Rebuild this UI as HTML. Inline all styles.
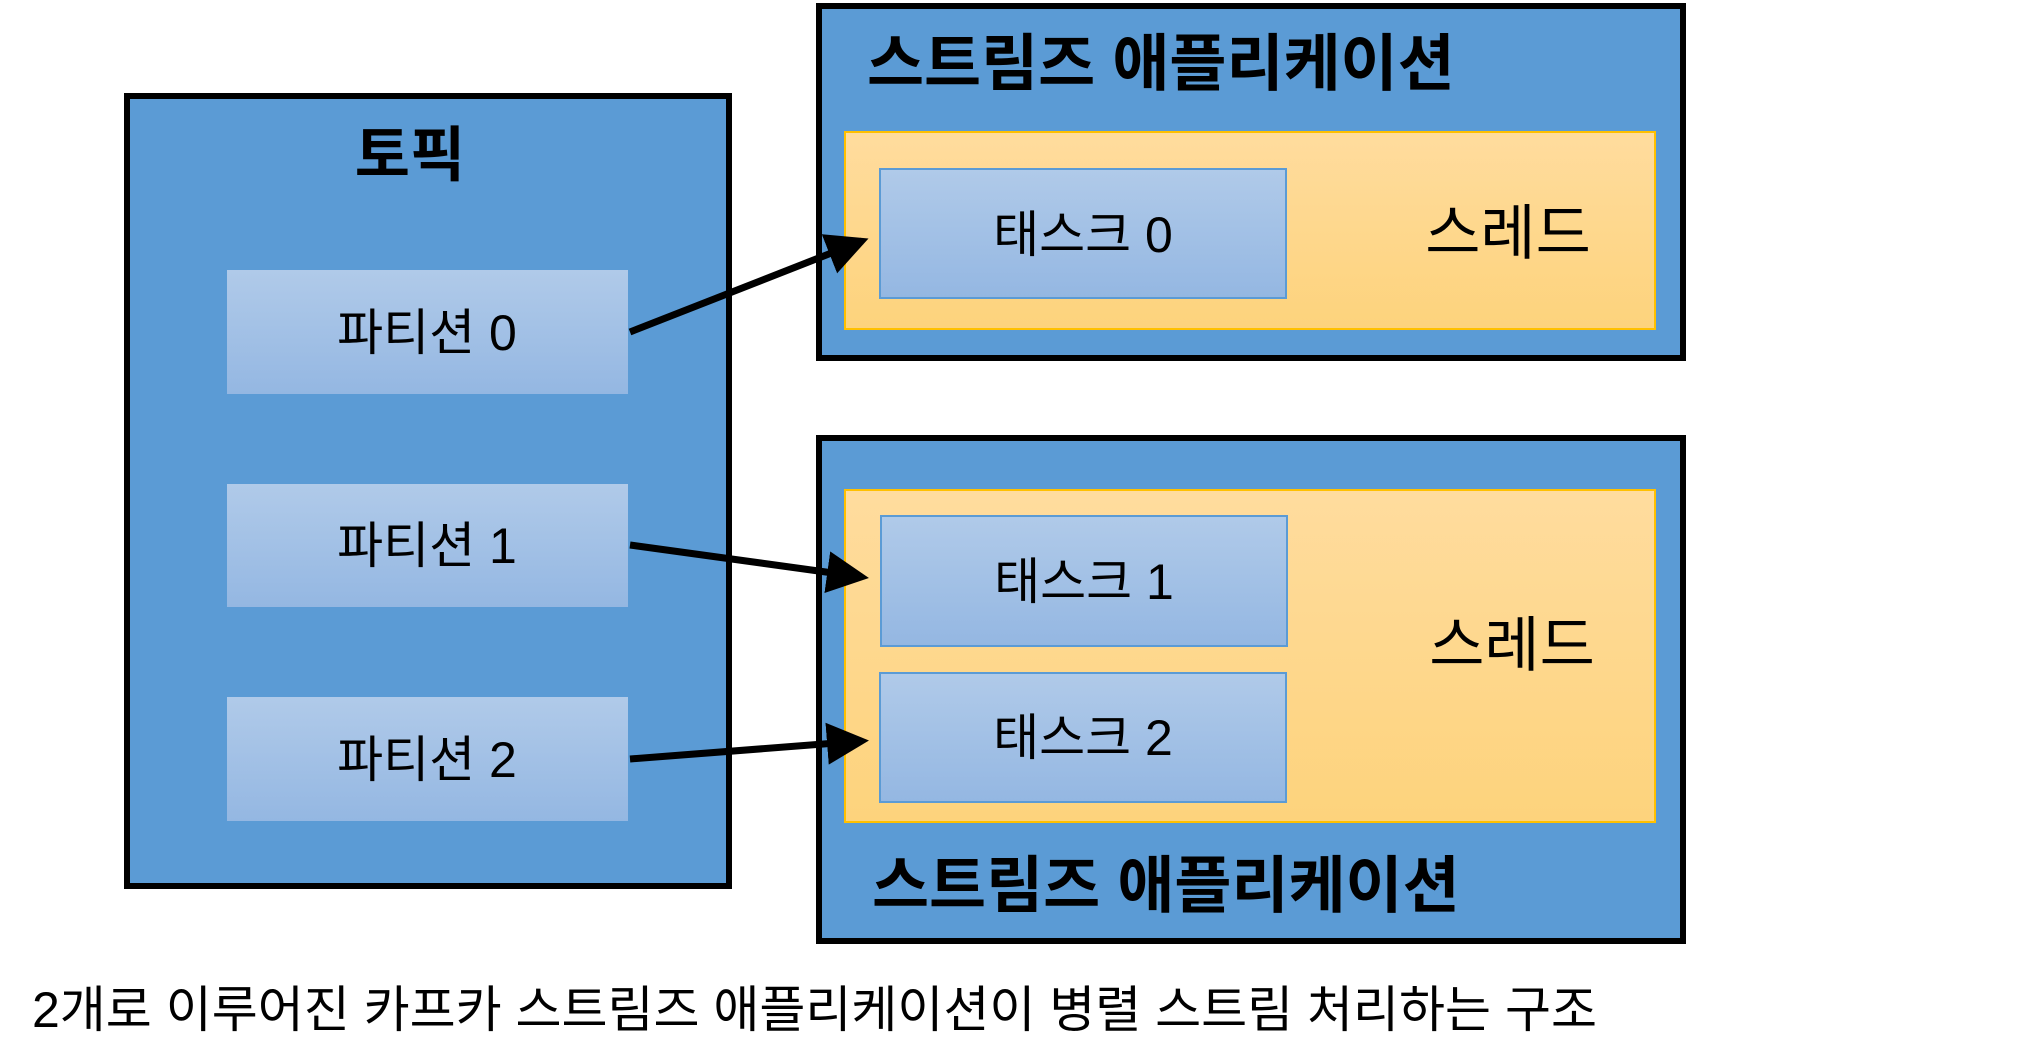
<!DOCTYPE html>
<html><head><meta charset="utf-8"><style>
html,body{margin:0;padding:0;background:#fff;width:2042px;height:1059px;overflow:hidden}
svg text{font-family:"Liberation Sans","Noto Sans CJK KR",sans-serif;fill:#000}
</style></head><body>
<svg width="2042" height="1059" viewBox="0 0 2042 1059" xmlns="http://www.w3.org/2000/svg">
<defs>
<linearGradient id="bl" x1="0" y1="0" x2="0" y2="1"><stop offset="0" stop-color="#B0CAE9"/><stop offset="1" stop-color="#94B7E2"/></linearGradient>
<linearGradient id="or" x1="0" y1="0" x2="0" y2="1"><stop offset="0" stop-color="#FFDC9E"/><stop offset="1" stop-color="#FDD37C"/></linearGradient>
<marker id="ah" markerWidth="6" markerHeight="6" refX="5" refY="3" orient="auto" markerUnits="strokeWidth"><path d="M0,0 L6,3 L0,6 z" fill="#000"/></marker>
</defs>
<!-- topic -->
<rect x="127" y="96" width="602" height="790" fill="#5B9BD5" stroke="#000" stroke-width="6"/>
<text x="410" y="176" font-size="60" font-weight="bold" text-anchor="middle">토픽</text>
<rect x="227" y="270" width="401" height="124" fill="url(#bl)"/>
<rect x="227" y="484" width="401" height="123" fill="url(#bl)"/>
<rect x="227" y="697" width="401" height="124" fill="url(#bl)"/>
<text x="427" y="350" font-size="50" text-anchor="middle">파티션 0</text>
<text x="427" y="563" font-size="50" text-anchor="middle">파티션 1</text>
<text x="427" y="777" font-size="50" text-anchor="middle">파티션 2</text>
<!-- app1 -->
<rect x="819" y="6" width="864" height="352" fill="#5B9BD5" stroke="#000" stroke-width="6"/>
<text x="867" y="85" font-size="62" font-weight="bold">스트림즈 애플리케이션</text>
<rect x="845" y="132" width="810" height="197" fill="url(#or)" stroke="#FFC000" stroke-width="2"/>
<rect x="880" y="169" width="406" height="129" fill="url(#bl)" stroke="#5B9BD5" stroke-width="2"/>
<text x="1083" y="252" font-size="50" text-anchor="middle">태스크 0</text>
<text x="1508" y="254" font-size="60" text-anchor="middle">스레드</text>
<!-- app2 -->
<rect x="819" y="438" width="864" height="503" fill="#5B9BD5" stroke="#000" stroke-width="6"/>
<rect x="845" y="490" width="810" height="332" fill="url(#or)" stroke="#FFC000" stroke-width="2"/>
<rect x="881" y="516" width="406" height="130" fill="url(#bl)" stroke="#5B9BD5" stroke-width="2"/>
<rect x="880" y="673" width="406" height="129" fill="url(#bl)" stroke="#5B9BD5" stroke-width="2"/>
<text x="1084" y="599" font-size="50" text-anchor="middle">태스크 1</text>
<text x="1083" y="755" font-size="50" text-anchor="middle">태스크 2</text>
<text x="1512" y="666" font-size="60" text-anchor="middle">스레드</text>
<text x="872" y="907" font-size="62" font-weight="bold">스트림즈 애플리케이션</text>
<!-- arrows -->
<line x1="630" y1="332" x2="862" y2="241" stroke="#000" stroke-width="7" marker-end="url(#ah)"/>
<line x1="630" y1="545" x2="862" y2="577" stroke="#000" stroke-width="7" marker-end="url(#ah)"/>
<line x1="630" y1="759" x2="862" y2="741" stroke="#000" stroke-width="7" marker-end="url(#ah)"/>
<!-- caption -->
<text x="32" y="1027" font-size="50">2개로 이루어진 카프카 스트림즈 애플리케이션이 병렬 스트림 처리하는 구조</text>
</svg>
</body></html>
